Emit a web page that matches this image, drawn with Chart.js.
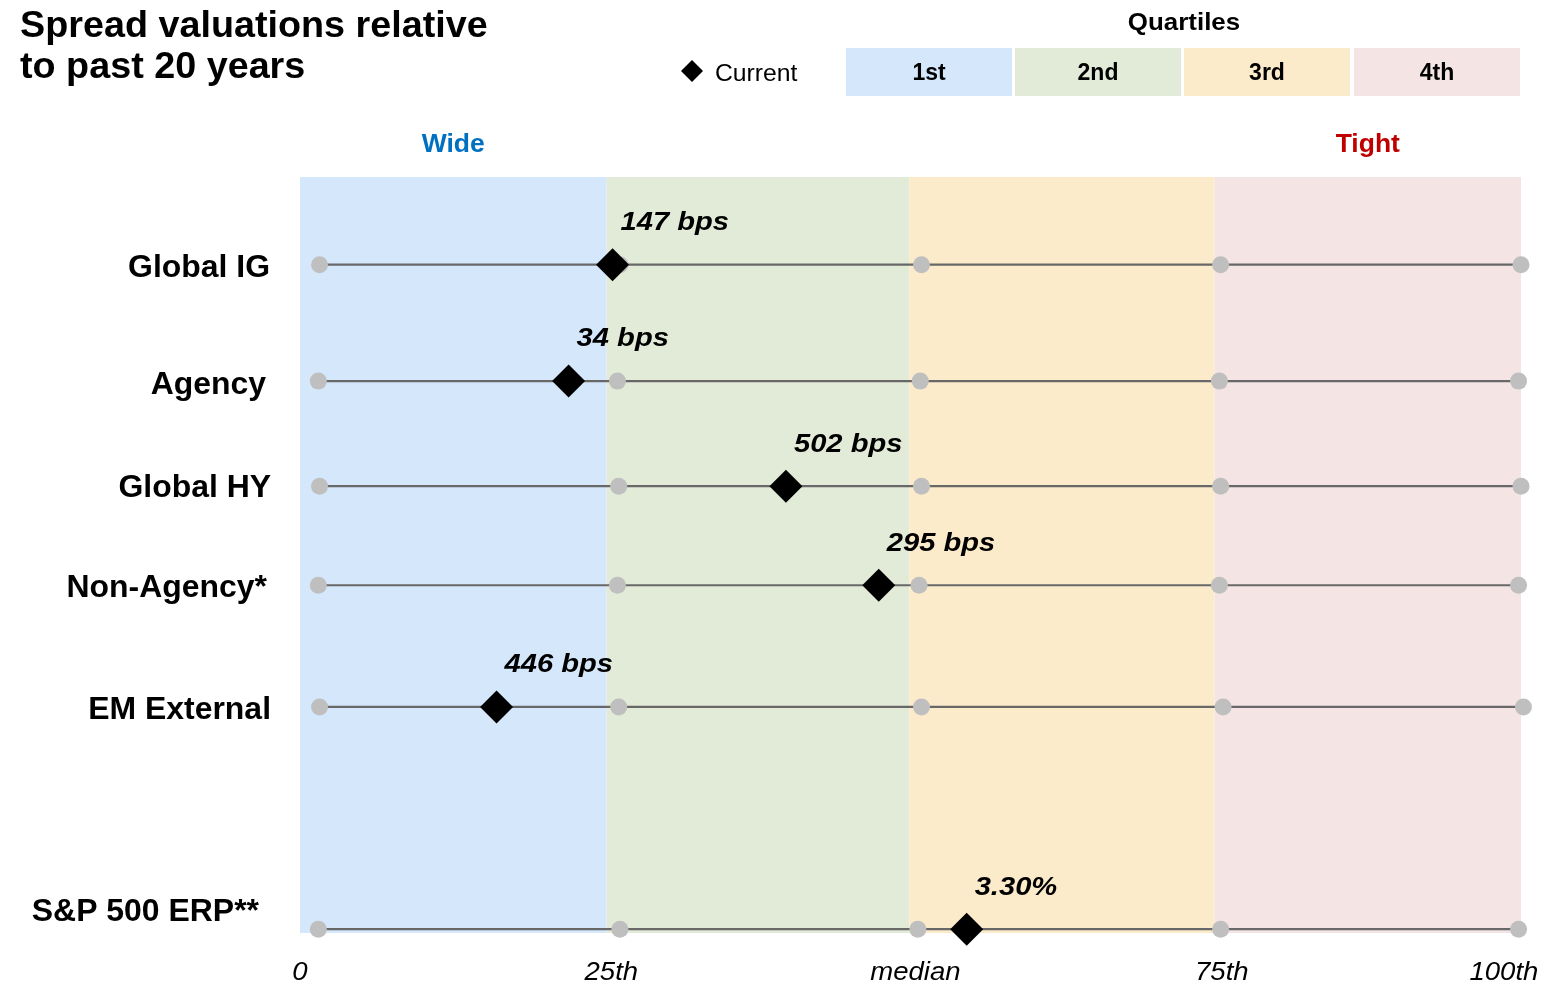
<!DOCTYPE html>
<html>
<head>
<meta charset="utf-8">
<title>Spread valuations relative to past 20 years</title>
<script src="https://cdn.jsdelivr.net/npm/chart.js@4.4.1/dist/chart.umd.min.js"></script>
<style>
  html, body { margin: 0; padding: 0; background: #ffffff; }
  #wrap { width: 1545px; height: 987px; position: relative; }
</style>
</head>
<body>
<div id="wrap"><canvas id="chart" width="1545" height="987"></canvas></div>
<script>
// ---- data ---------------------------------------------------------------
const categories   = ['Global IG', 'Agency', 'Global HY', 'Non-Agency*', 'EM External', 'S&P 500 ERP**'];
const valueLabels  = ['147 bps', '34 bps', '502 bps', '295 bps', '446 bps', '3.30%'];
// current reading, placed on the 0–100 percentile axis
const currentPct   = [25.6, 22.0, 39.8, 47.4, 16.1, 54.6];
// historical distribution markers per row (min, 25th, median, 75th, max)
const distMin      = [1.6, 1.5, 1.6, 1.5, 1.6, 1.5];
const distP25      = [26.2, 26.0, 26.1, 26.0, 26.1, 26.2];
const distMedian   = [50.9, 50.8, 50.9, 50.7, 50.9, 50.6];
const distP75      = [75.4, 75.3, 75.4, 75.3, 75.6, 75.4];
const distMax      = [100.0, 99.8, 100.0, 99.8, 100.2, 99.8];
// vertical slot of each row (0 = top of plot, 10 = bottom)
const rowPos       = [1.16, 2.70, 4.09, 5.40, 7.01, 9.95];
const labelPos     = [1.18, 2.72, 4.09, 5.41, 7.02, 9.70];
// quartile bands
const quartileEdges = [0, 25.1, 49.9, 74.9, 100];
const quartileNames = ['1st', '2nd', '3rd', '4th'];
// bottom axis labels
const xTickPos     = [0, 25.5, 50.4, 75.5, 98.6];
const xTickLabels  = ['0', '25th', 'median', '75th', '100th'];

// ---- styles -------------------------------------------------------------
const FONT = "'Liberation Sans', Arial, Helvetica, sans-serif";
const bandColors = ['#d5e7fb', '#e2ebd8', '#fcebcb', '#f5e4e4'];
const lineColor  = '#686868';
const dotColor   = '#bfbfbf';
const rowLabelRight = [270, 266, 271, 267, 271, 259];

// draws text with its capital letters centred on y (or on the baseline when base is set)
function drawText(ctx, s, x, y, opts) {
  const { size, weight = '', style = '', color = '#000', align = 'left', sx = 1, base = false } = opts;
  ctx.save();
  ctx.font = `${style} ${weight} ${size}px ${FONT}`.trim();
  ctx.fillStyle = color;
  ctx.textAlign = align;
  ctx.textBaseline = 'alphabetic';
  ctx.translate(x, base ? y : y + 0.36 * size);
  ctx.scale(sx, 1);
  ctx.fillText(s, 0, 0);
  ctx.restore();
}

function diamond(ctx, x, y, r) {
  ctx.beginPath();
  ctx.moveTo(x, y - r);
  ctx.lineTo(x + r, y);
  ctx.lineTo(x, y + r);
  ctx.lineTo(x - r, y);
  ctx.closePath();
  ctx.fill();
}

// shaded quartile bands behind the rows
const bandsPlugin = {
  id: 'quartileBands',
  beforeDatasetsDraw(chart) {
    const { ctx, chartArea, scales: { x } } = chart;
    ctx.save();
    for (let i = 0; i < 4; i++) {
      const x0 = x.getPixelForValue(quartileEdges[i]);
      const x1 = x.getPixelForValue(quartileEdges[i + 1]);
      ctx.fillStyle = bandColors[i];
      ctx.fillRect(x0, chartArea.top, x1 - x0, chartArea.bottom - chartArea.top);
    }
    ctx.restore();
  }
};

// titles, row names, value labels, axis labels and the legend
const textPlugin = {
  id: 'annotations',
  afterDatasetsDraw(chart) {
    const { ctx, scales: { x, y } } = chart;

    // title
    drawText(ctx, 'Spread valuations relative', 20, 37, { size: 37, weight: 'bold', sx: 1.02, base: true });
    drawText(ctx, 'to past 20 years', 20, 78, { size: 37, weight: 'bold', sx: 1.02, base: true });

    // legend: current marker
    ctx.save();
    ctx.fillStyle = '#000';
    diamond(ctx, 692, 71, 11);
    ctx.restore();
    drawText(ctx, 'Current', 715, 72, { size: 24, sx: 1.03 });

    // legend: quartile boxes
    drawText(ctx, 'Quartiles', 1184, 21, { size: 24, weight: 'bold', align: 'center', sx: 1.08 });
    const boxL = [846, 1015, 1184, 1354];
    const boxW = 166;
    for (let i = 0; i < 4; i++) {
      ctx.fillStyle = bandColors[i];
      ctx.fillRect(boxL[i], 48, boxW, 48);
      drawText(ctx, quartileNames[i], boxL[i] + boxW / 2, 72, { size: 23, weight: 'bold', align: 'center', sx: 1.0 });
    }

    // Wide / Tight headers centred over the outer bands
    const cWide = x.getPixelForValue((quartileEdges[0] + quartileEdges[1]) / 2);
    const cTight = x.getPixelForValue((quartileEdges[3] + quartileEdges[4]) / 2);
    drawText(ctx, 'Wide', cWide, 143, { size: 25, weight: 'bold', color: '#0070c0', align: 'center', sx: 1.06 });
    drawText(ctx, 'Tight', cTight, 143, { size: 25, weight: 'bold', color: '#c00000', align: 'center', sx: 1.06 });

    // row names
    categories.forEach((name, i) => {
      drawText(ctx, name, rowLabelRight[i], y.getPixelForValue(labelPos[i]), { size: 31, weight: 'bold', align: 'right', sx: 1.03 });
    });

    // value labels next to the current marker
    valueLabels.forEach((lab, i) => {
      const px = x.getPixelForValue(currentPct[i]);
      const py = y.getPixelForValue(rowPos[i]);
      drawText(ctx, lab, px + 8, py - 44, { size: 26, weight: 'bold', style: 'italic', sx: 1.12 });
    });

    // percentile axis labels
    xTickLabels.forEach((lab, i) => {
      drawText(ctx, lab, x.getPixelForValue(xTickPos[i]), 971, { size: 26, style: 'italic', align: 'center', sx: 1.06 });
    });
  }
};

// ---- datasets -----------------------------------------------------------
const datasets = [];
// current marker first so it is painted on top
datasets.push({
  label: 'Current',
  data: currentPct.map((v, i) => ({ x: v, y: rowPos[i] })),
  showLine: false,
  pointStyle: 'rectRot',
  pointRadius: 16.5,
  pointHoverRadius: 16.5,
  pointBackgroundColor: '#000000',
  pointBorderColor: '#000000',
  pointBorderWidth: 0,
  clip: false
});
categories.forEach((name, i) => {
  datasets.push({
    label: name,
    data: [distMin[i], distP25[i], distMedian[i], distP75[i], distMax[i]].map(v => ({ x: v, y: rowPos[i] })),
    showLine: true,
    borderColor: lineColor,
    borderWidth: 2.2,
    pointRadius: 8.5,
    pointHoverRadius: 8.5,
    pointBackgroundColor: dotColor,
    pointBorderColor: dotColor,
    pointBorderWidth: 0,
    clip: false
  });
});

new Chart(document.getElementById('chart'), {
  type: 'scatter',
  data: { datasets },
  options: {
    responsive: false,
    animation: false,
    devicePixelRatio: 1,
    layout: { padding: { left: 300, right: 24, top: 177, bottom: 54 } },
    scales: {
      x: { type: 'linear', min: 0, max: 100, display: false },
      y: { type: 'linear', min: 0, max: 10, reverse: true, display: false }
    },
    plugins: {
      legend: { display: false },
      tooltip: { enabled: false }
    },
    events: []
  },
  plugins: [bandsPlugin, textPlugin]
});
</script>
</body>
</html>
